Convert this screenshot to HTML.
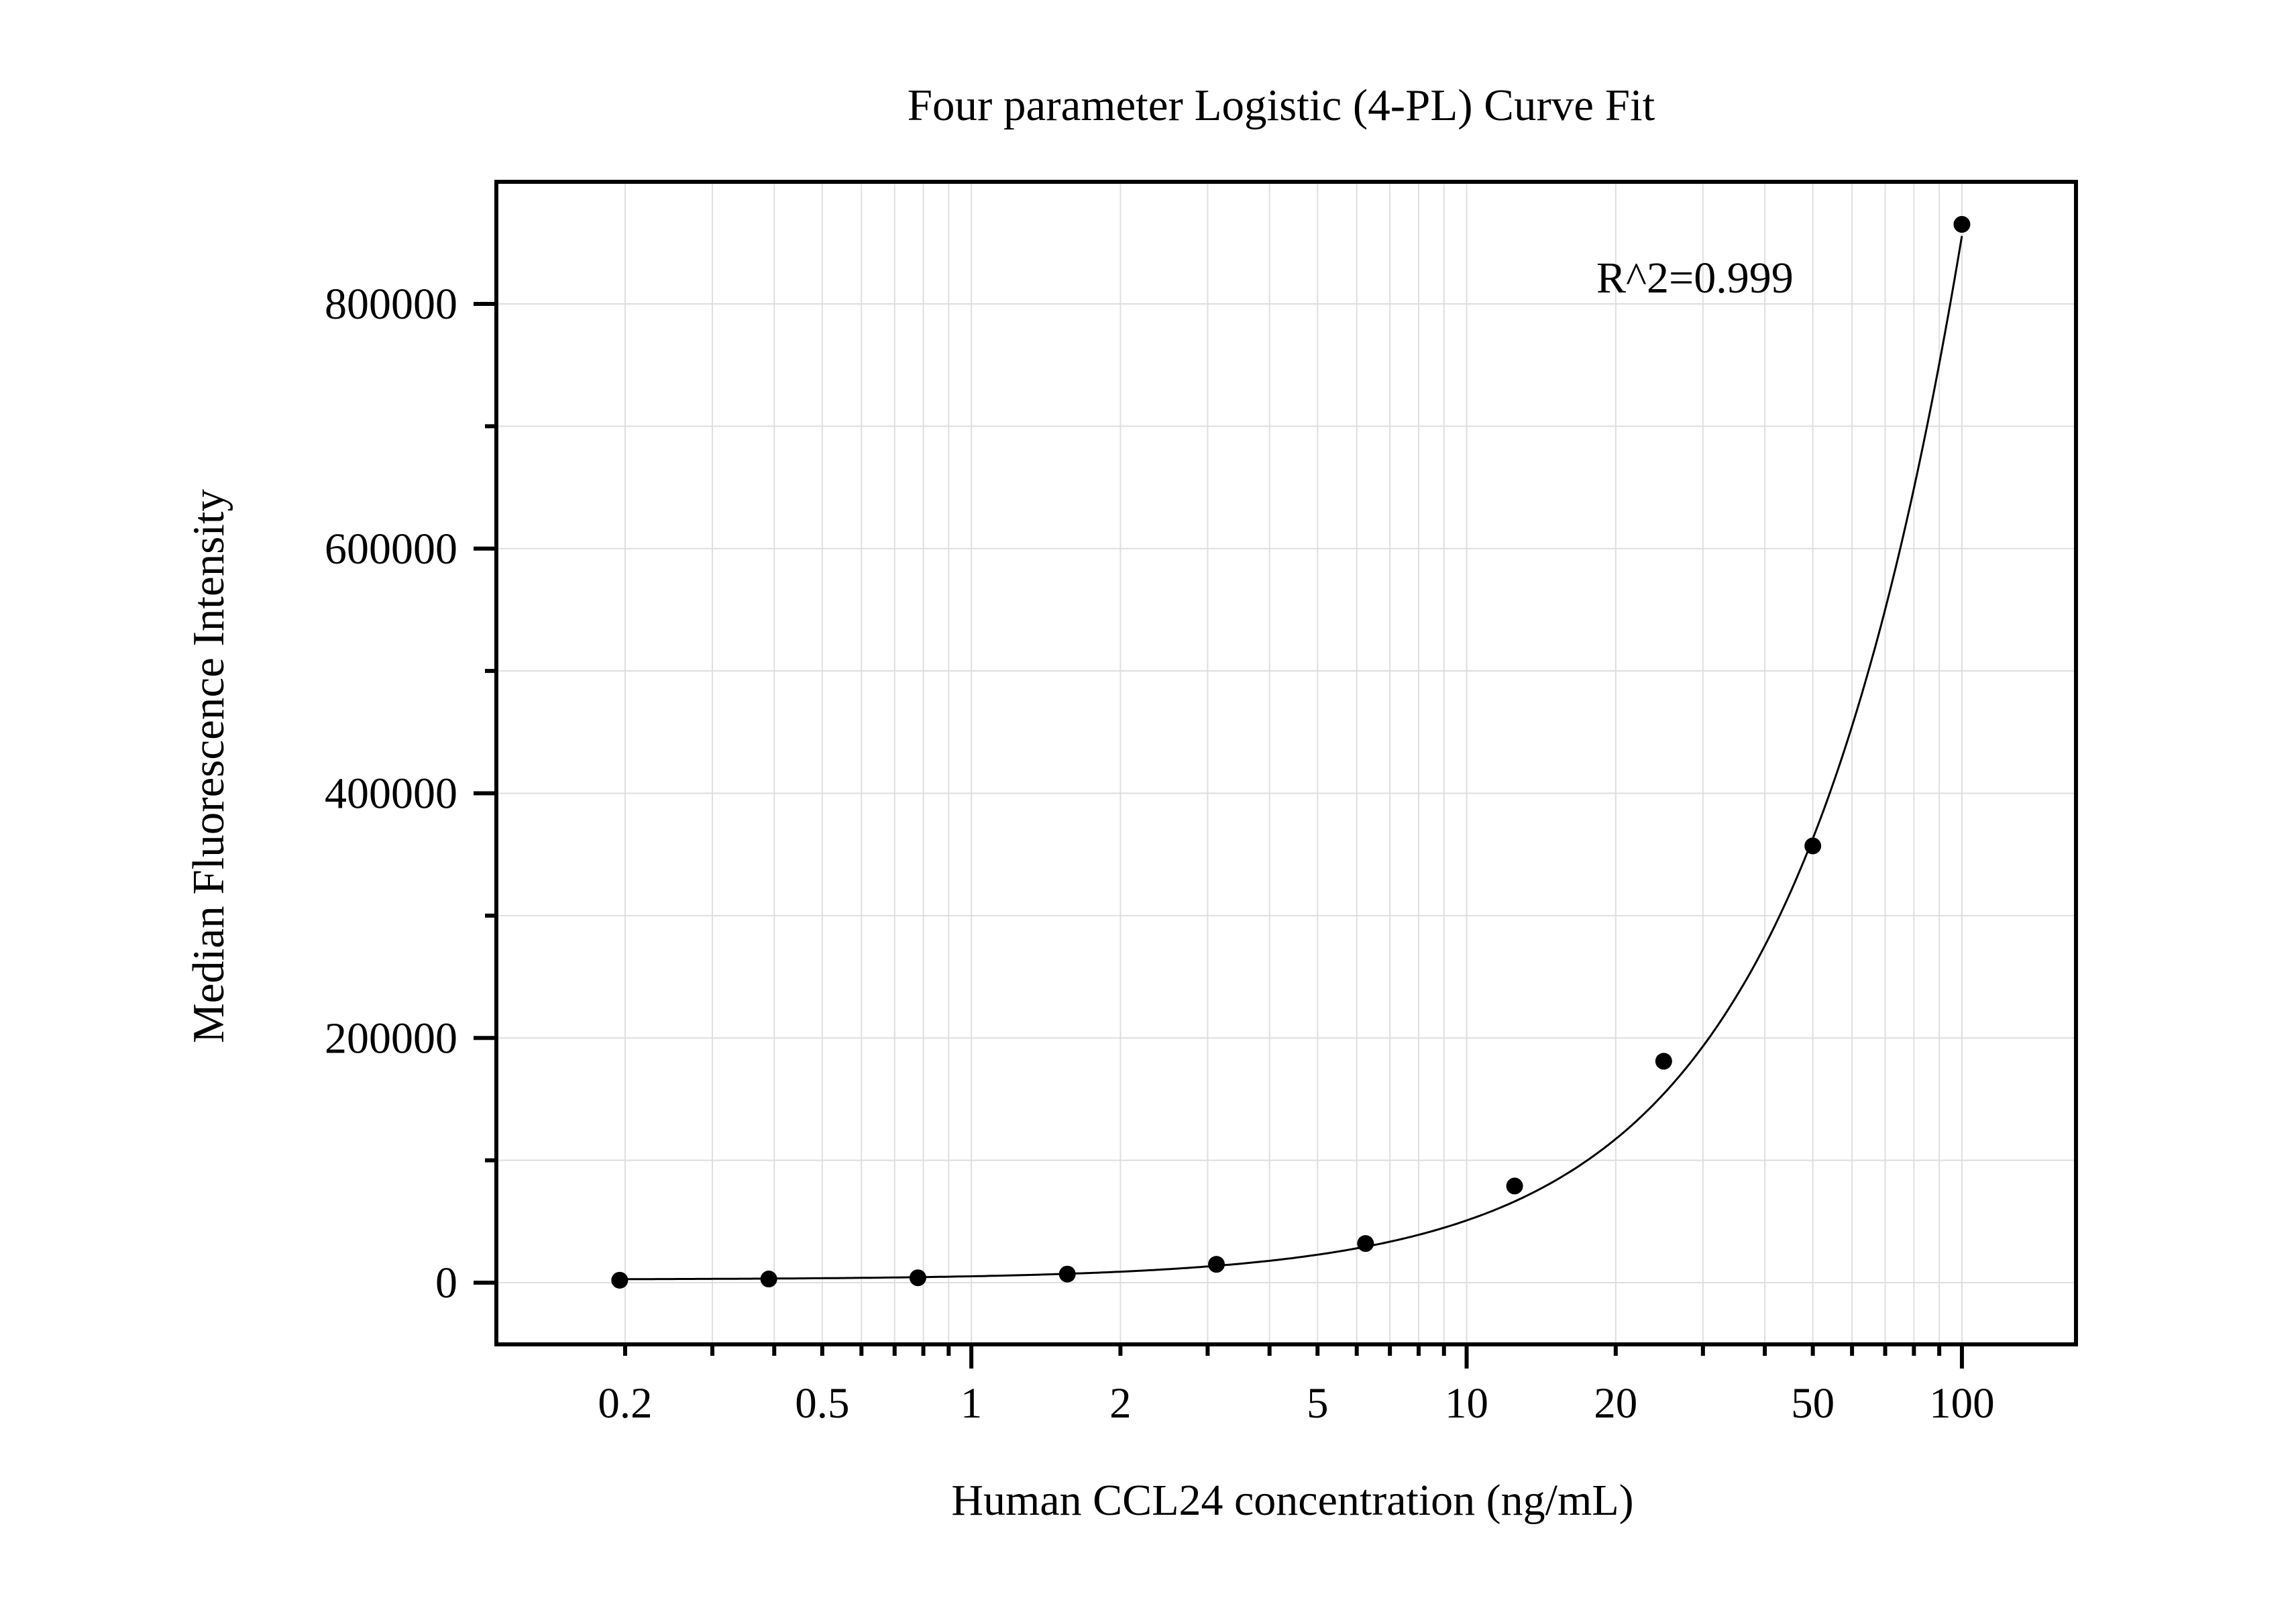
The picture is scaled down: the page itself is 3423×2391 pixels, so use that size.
<!DOCTYPE html>
<html><head><meta charset="utf-8"><style>
html,body{margin:0;padding:0;background:#fff}
svg{display:block}
text{font-family:"Liberation Serif",serif;fill:#000}
</style></head><body>
<svg id="chart" width="3423" height="2391" viewBox="0 0 3423 2391" xmlns="http://www.w3.org/2000/svg">
<rect x="0" y="0" width="3423" height="2391" fill="#fff"/>
<g id="grid"></g>
<g id="curve"></g>
<g id="points"></g>
<g id="axes"></g>
<text x="1910" y="179" font-size="67" text-anchor="middle">Four parameter Logistic (4-PL) Curve Fit</text>
<text x="1927" y="2258" font-size="66" text-anchor="middle">Human CCL24 concentration (ng/mL)</text>
<text transform="translate(333,1142) rotate(-90)" font-size="67" text-anchor="middle">Median Fluorescence Intensity</text>
<text x="2380" y="436" font-size="66">R^2=0.999</text>
</svg>
<script>
const concentrations = [0.195, 0.39, 0.78, 1.5625, 3.125, 6.25, 12.5, 25, 50, 100];
const mfiValues = [2000, 3000, 4000, 7000, 15000, 32000, 79000, 181000, 357000, 865000];
const fitParams = [2500, 1.25, 4490, 100000000]; // a, b, c, d
const xTickValues = [0.2, 0.5, 1, 2, 5, 10, 20, 50, 100];
const xTickLabels = ["0.2", "0.5", "1", "2", "5", "10", "20", "50", "100"];
const yTickValues = [0, 200000, 400000, 600000, 800000];
const yTickLabels = ["0", "200000", "400000", "600000", "800000"];

const NS = "http://www.w3.org/2000/svg";
const L = 740, R = 3095, T = 271, B = 2004;
const x0 = 932, xDec = 738.4;
const y0 = 1912, yPer = 1459 / 800000;
function xs(v){ return x0 + (Math.log10(v) - Math.log10(0.2)) * xDec; }
function ys(v){ return y0 - v * yPer; }
function mk(tag, attrs, parent){
  const e = document.createElementNS(NS, tag);
  for (const k in attrs) e.setAttribute(k, attrs[k]);
  parent.appendChild(e);
  return e;
}
const grid = document.getElementById('grid');
const axes = document.getElementById('axes');

for (let dec = -1; dec <= 2; dec++) {
  for (let m = 1; m <= 9; m++) {
    const v = m * Math.pow(10, dec);
    const px = xs(v);
    if (px < L + 3 || px > R - 3) continue;
    const g = mk('line', {x1:px, x2:px, y1:T, y2:B, stroke:'#dedede', 'stroke-width':2}, grid);
    
    
    const major = (m === 1);
    const t = mk('line', {x1:px, x2:px, y1:B, y2:B + (major ? 36 : 17), stroke:'#000', 'stroke-width':6}, axes);
    
    
  }
}
for (let v = 0; v <= 800000; v += 100000) {
  const py = ys(v);
  const g = mk('line', {x1:L, x2:R, y1:py, y2:py, stroke:'#dedede', 'stroke-width':2}, grid);
  
  
  const major = (v % 200000 === 0);
  const t = mk('line', {x1:L - (major ? 34 : 17), x2:L, y1:py, y2:py, stroke:'#000', 'stroke-width':6}, axes);
  
  
}
const frame = mk('rect', {x:L, y:T, width:R - L, height:B - T, fill:'none', stroke:'#000', 'stroke-width':6}, axes);


xTickValues.forEach((v, i) => {
  const t = mk('text', {x:xs(v), y:2113, 'font-size':65, 'text-anchor':'middle'}, axes);
  t.textContent = xTickLabels[i];
  
  
});
yTickValues.forEach((v, i) => {
  const t = mk('text', {x:682, y:ys(v) + 22, 'font-size':66, 'text-anchor':'end'}, axes);
  t.textContent = yTickLabels[i];
  
  
});
const [a, b, c, d] = fitParams;
function fourPL(x){ return d + (a - d) / (1 + Math.pow(x / c, b)); }
let pts = [];
const lx0 = Math.log10(concentrations[0]), lx1 = Math.log10(concentrations[concentrations.length - 1]);
for (let i = 0; i <= 400; i++) {
  const x = Math.pow(10, lx0 + (lx1 - lx0) * i / 400);
  pts.push(xs(x).toFixed(1) + ',' + ys(fourPL(x)).toFixed(1));
}
const curve = mk('polyline', {points:pts.join(' '), fill:'none', stroke:'#000', 'stroke-width':3}, document.getElementById('curve'));


const pg = document.getElementById('points');
concentrations.forEach((x, i) => {
  const p = mk('circle', {cx:xs(x), cy:ys(mfiValues[i]), r:12.5, fill:'#000'}, pg);
  
  
});
</script>
</body></html>
